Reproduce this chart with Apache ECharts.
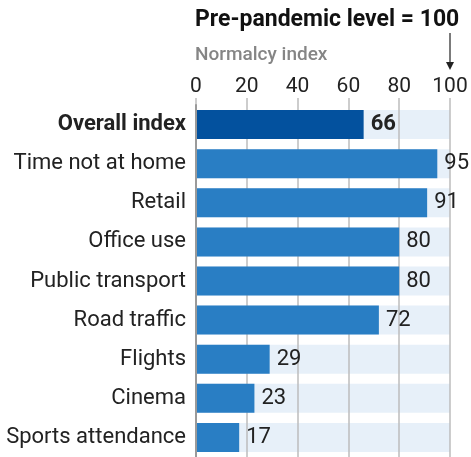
<!DOCTYPE html>
<html><head><meta charset="utf-8">
<script src="https://cdn.jsdelivr.net/npm/echarts@6/dist/echarts.min.js"></script>
<style>html,body{margin:0;padding:0;background:#fff}#c{width:471px;height:457px}</style>
</head><body><div id="c"></div>
<script>
const categories = ["Overall index","Time not at home","Retail","Office use","Public transport","Road traffic","Flights","Cinema","Sports attendance"];
const values = [66,95,91,80,80,72,29,23,17];
const ticks = [0,20,40,60,80,100];
const baseline = 100;

const FONT = 'Roboto, sans-serif';
const chart = echarts.init(document.getElementById('c'), null, {renderer:'canvas'});
chart.setOption({
  animation:false,
  backgroundColor:'#fff',
  grid:{left:196, right:21, top:105, bottom:0, containLabel:false, outerBoundsMode:'none'},
  xAxis:{
    type:'value', position:'top', min:ticks[0], max:ticks[ticks.length-1], interval:20, z:1,
    axisLine:{show:false},
    axisTick:{show:true, length:7, inside:false, lineStyle:{color:'#bdbdbd', width:1.5}},
    splitLine:{show:true, lineStyle:{color:'#bdbdbd', width:1.5}},
    axisLabel:{margin:8, fontFamily:FONT, fontSize:21, color:'#222'}
  },
  yAxis:{
    type:'category', data:categories, inverse:true, z:3,
    axisLine:{show:true, lineStyle:{color:'#9a9a9a', width:2}},
    axisTick:{show:false},
    axisLabel:{margin:10, fontFamily:FONT, fontSize:22, color:'#222',
      formatter:(v,i)=> i===0 ? '{b|'+v+'}' : v,
      rich:{b:{fontFamily:FONT, fontSize:22, fontWeight:'bold', color:'#222'}}}
  },
  series:[
    {type:'bar', data:categories.map(()=>baseline), barWidth:29, barGap:'-100%', z:0, silent:true,
     itemStyle:{color:'#e7f0f9'}},
    {type:'bar', data:values.map((v,i)=>({value:v, itemStyle:{color:i===0?'#03519e':'#297ec4'},
       label:i===0?{fontWeight:'bold'}:{}})), barWidth:29, z:2,
     label:{show:true, position:'right', distance:7, fontFamily:FONT, fontSize:22, color:'#222'}}
  ],
  graphic:[
    {type:'text', left:195, top:9, style:{text:'Pre-pandemic level = 100', font:'bold 23px '+FONT, fill:'#111'}},
    {type:'text', left:195, top:46, style:{text:'Normalcy index', font:'500 19px '+FONT, fill:'#858585'}},
    {type:'line', shape:{x1:450, y1:33, x2:450, y2:68}, style:{stroke:'#222', lineWidth:1.2}},
    {type:'polygon', shape:{points:[[446,62],[454,62],[450,70]]}, style:{fill:'#222'}}
  ]
});
</script></body></html>
